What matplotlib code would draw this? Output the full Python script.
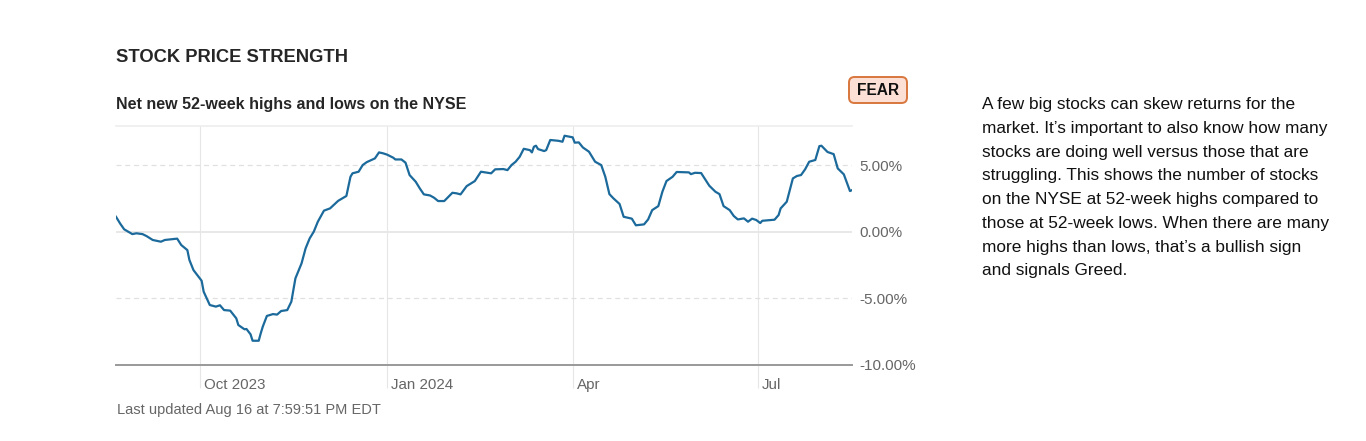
import matplotlib
matplotlib.use("Agg")
import matplotlib.pyplot as plt
import matplotlib.dates as mdates
import matplotlib.transforms as mtransforms
from matplotlib.patches import FancyBboxPatch
import pandas as pd

plt.rcParams['font.family'] = ['Liberation Sans', 'DejaVu Sans']

dates = [
    "2023-08-21", "2023-08-23", "2023-08-25", "2023-08-29", "2023-08-31", "2023-09-03", "2023-09-05",
    "2023-09-08", "2023-09-12", "2023-09-14", "2023-09-20", "2023-09-22", "2023-09-25", "2023-09-26",
    "2023-09-28", "2023-10-02", "2023-10-03", "2023-10-06", "2023-10-09", "2023-10-11", "2023-10-13",
    "2023-10-16", "2023-10-19", "2023-10-20", "2023-10-23", "2023-10-24", "2023-10-26", "2023-10-27",
    "2023-10-30", "2023-10-31", "2023-11-01", "2023-11-03", "2023-11-06", "2023-11-08", "2023-11-10",
    "2023-11-13", "2023-11-15", "2023-11-17", "2023-11-20", "2023-11-22", "2023-11-24", "2023-11-26",
    "2023-11-28", "2023-12-01", "2023-12-04", "2023-12-08", "2023-12-12", "2023-12-14", "2023-12-15",
    "2023-12-18", "2023-12-20", "2023-12-22", "2023-12-26", "2023-12-28", "2023-12-30", "2024-01-01",
    "2024-01-04", "2024-01-05", "2024-01-08", "2024-01-10", "2024-01-12", "2024-01-15", "2024-01-17",
    "2024-01-19", "2024-01-22", "2024-01-24", "2024-01-26", "2024-01-29", "2024-02-02", "2024-02-04",
    "2024-02-06", "2024-02-09", "2024-02-13", "2024-02-16", "2024-02-18", "2024-02-21", "2024-02-23",
    "2024-02-27", "2024-02-29", "2024-03-02", "2024-03-04", "2024-03-06", "2024-03-08", "2024-03-11",
    "2024-03-12", "2024-03-13", "2024-03-14", "2024-03-15", "2024-03-18", "2024-03-19", "2024-03-21",
    "2024-03-25", "2024-03-27", "2024-03-28", "2024-04-01", "2024-04-02", "2024-04-04", "2024-04-06",
    "2024-04-09", "2024-04-12", "2024-04-15", "2024-04-17", "2024-04-19", "2024-04-21", "2024-04-24",
    "2024-04-26", "2024-04-30", "2024-05-02", "2024-05-06", "2024-05-08", "2024-05-10", "2024-05-13",
    "2024-05-15", "2024-05-17", "2024-05-20", "2024-05-22", "2024-05-28", "2024-05-29", "2024-05-31",
    "2024-06-03", "2024-06-05", "2024-06-07", "2024-06-10", "2024-06-12", "2024-06-14", "2024-06-17",
    "2024-06-19", "2024-06-21", "2024-06-24", "2024-06-26", "2024-06-28", "2024-06-30", "2024-07-02",
    "2024-07-03", "2024-07-09", "2024-07-11", "2024-07-12", "2024-07-15", "2024-07-18", "2024-07-20",
    "2024-07-22", "2024-07-24", "2024-07-26", "2024-07-29", "2024-07-31", "2024-08-01", "2024-08-04",
    "2024-08-07", "2024-08-09", "2024-08-12", "2024-08-15", "2024-08-16",
]
values = [
    1.12, 0.62, 0.18, -0.18, -0.12, -0.18, -0.33,
    -0.62, -0.75, -0.62, -0.52, -1.00, -1.38, -2.12,
    -2.88, -3.68, -4.50, -5.50, -5.62, -5.52, -5.88,
    -5.92, -6.50, -7.00, -7.32, -7.30, -7.70, -8.18,
    -8.18, -7.62, -7.12, -6.32, -6.18, -6.22, -5.95,
    -5.88, -5.25, -3.50, -2.38, -1.25, -0.50, 0.00,
    0.75, 1.58, 1.75, 2.32, 2.68, 4.12, 4.38,
    4.50, 5.00, 5.22, 5.50, 5.95, 5.88, 5.78,
    5.55, 5.42, 5.42, 5.18, 4.25, 3.75, 3.25,
    2.80, 2.72, 2.55, 2.30, 2.30, 2.92, 2.88,
    2.80, 3.42, 3.80, 4.50, 4.45, 4.38, 4.68,
    4.70, 4.62, 5.00, 5.25, 5.62, 6.22, 6.12,
    5.95, 6.38, 6.45, 6.20, 6.05, 6.12, 6.88,
    6.82, 6.75, 7.20, 7.08, 6.68, 6.70, 6.32,
    6.00, 5.25, 5.00, 4.12, 2.82, 2.50, 2.08,
    1.12, 0.98, 0.48, 0.55, 0.92, 1.62, 1.92,
    3.00, 3.80, 4.12, 4.48, 4.45, 4.32, 4.42,
    4.40, 3.92, 3.45, 3.00, 2.82, 1.92, 1.62,
    1.18, 0.92, 1.00, 0.75, 0.98, 0.88, 0.65,
    0.82, 0.90, 1.25, 1.75, 2.25, 4.00, 4.18,
    4.25, 4.68, 5.25, 5.38, 6.42, 6.45, 5.98,
    5.82, 4.75, 4.30, 3.05, 3.12,
]
x_tick_dates = ["2023-10-01", "2024-01-01", "2024-04-01", "2024-07-01"]
x_tick_labels = ["Oct 2023", "Jan 2024", "Apr", "Jul"]
y_ticks = [5, 0, -5, -10]
y_tick_labels = ["5.00%", "0.00%", "-5.00%", "-10.00%"]

title = "STOCK PRICE STRENGTH"
subtitle = "Net new 52-week highs and lows on the NYSE"
badge = "FEAR"
footer = "Last updated Aug 16 at 7:59:51 PM EDT"
description = ("A few big stocks can skew returns for the\n"
               "market. It\u2019s important to also know how many\n"
               "stocks are doing well versus those that are\n"
               "struggling. This shows the number of stocks\n"
               "on the NYSE at 52-week highs compared to\n"
               "those at 52-week lows. When there are many\n"
               "more highs than lows, that\u2019s a bullish sign\n"
               "and signals Greed.")

W, H = 1366, 441
fig = plt.figure(figsize=(W / 100, H / 100), dpi=100)
fig.patch.set_facecolor("white")

L, R, T, B = 116, 852, 126, 365
ax = fig.add_axes([L / W, (H - B) / H, (R - L) / W, (B - T) / H])

x = pd.to_datetime(dates)
ax.plot(x, values, color="#1b6a9b", lw=1.6, solid_joinstyle="round", zorder=3)

ax.set_xlim(x[0], x[-1])
ax.set_ylim(-10, 7.93)

# spines
for s in ["left", "right"]:
    ax.spines[s].set_visible(False)
ax.spines["top"].set_color("#eeeeee")
ax.spines["top"].set_linewidth(1.2)
ax.spines["bottom"].set_color("#999999")
ax.spines["bottom"].set_linewidth(1.4)
ax.spines["bottom"].set_zorder(4)

# y axis
ax.yaxis.tick_right()
ax.set_yticks(y_ticks)
ax.set_yticklabels(y_tick_labels)
ax.tick_params(axis="y", length=0, pad=5, labelsize=11, labelcolor="#666666")
ax.yaxis.grid(True, color="#e0e0e0", lw=0.9, linestyle=(0, (4, 3)))
for gl, v in zip(ax.get_ygridlines(), y_ticks):
    if v == 0:
        gl.set_linestyle("-")
        gl.set_color("#e6e6e6")
        gl.set_linewidth(1.3)

# x axis
ax.set_xticks(pd.to_datetime(x_tick_dates))
ax.set_xticklabels(x_tick_labels)
ax.tick_params(axis="x", length=16.5, width=0.8, color="#e6e6e6", direction="out",
               pad=-7, labelsize=10.9, labelcolor="#666666")
ax.xaxis.grid(True, color="#e6e6e6", lw=0.8)
offset = mtransforms.ScaledTranslation(4 / 100, 0, fig.dpi_scale_trans)
for lbl in ax.get_xticklabels():
    lbl.set_ha("left")
    lbl.set_transform(lbl.get_transform() + offset)
ax.set_axisbelow(True)

# titles
fig.text(116 / W, 1 - 58 / H, title, fontsize=13.2, fontweight="bold", color="#262626",
         ha="left", va="center")
fig.text(116 / W, 1 - 105 / H, subtitle, fontsize=11.5, fontweight="bold", color="#262626",
         ha="left", va="center")
fig.text(117 / W, 1 - 410 / H, footer, fontsize=10.5, color="#666666", ha="left", va="center")

# badge
bx0, bx1, by0, by1 = 849, 907, 77, 103
patch = FancyBboxPatch((bx0 / W, 1 - by1 / H), (bx1 - bx0) / W, (by1 - by0) / H,
                       boxstyle="round,pad=0,rounding_size=0.004",
                       transform=fig.transFigure, facecolor="#fde0d5", edgecolor="#d9773e",
                       lw=1.4, mutation_aspect=W / H)
fig.add_artist(patch)
fig.text((bx0 + bx1) / 2 / W, 1 - (by0 + by1 + 2) / 2 / H, badge, fontsize=11.2, fontweight="bold",
         color="#111111", ha="center", va="center")

# description
fig.text(982 / W, 1 - 97 / H, description, fontsize=12.4, color="#111111", ha="left", va="top",
         linespacing=1.73)

fig.savefig("out.png", dpi=100, facecolor="white")
